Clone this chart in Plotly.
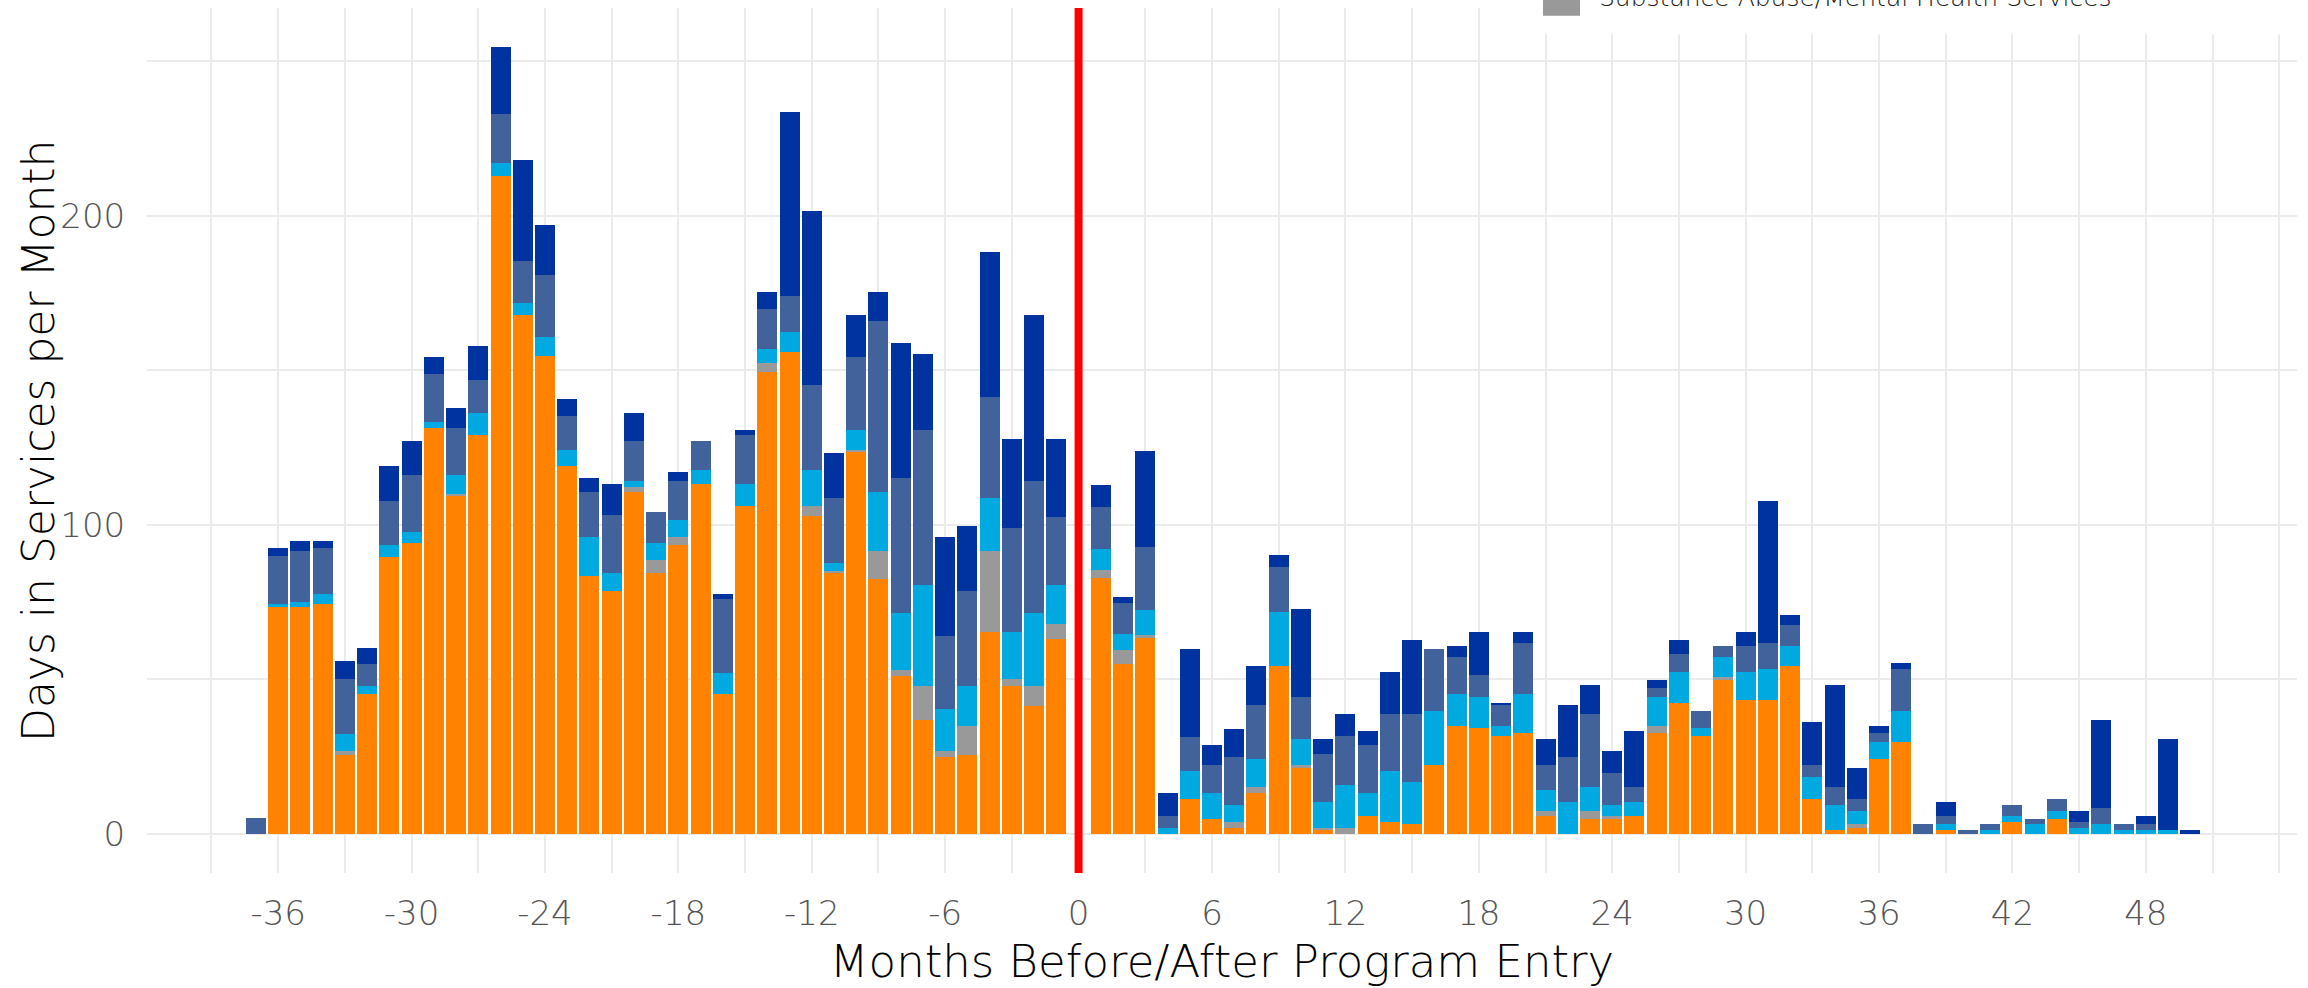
import plotly.graph_objects as go

# Months relative to program entry (no bar at month 0)
months = list(range(-37, 0)) + list(range(1, 51))

# Component heights (days per month) for each service, bottom to top of stack
jail = [0, 73.3, 73.3, 74.4, 25.6, 45.1, 89.6, 94.0, 131.4, 109.2, 129.2, 212.9, 168.0, 154.6, 118.9, 83.4,
        78.6, 110.6, 84.3, 93.5, 113.3, 45.1, 106.0, 149.6, 156.0, 102.7, 84.3, 123.5, 82.5, 51.2, 36.9,
        24.9, 25.6, 65.2, 47.7, 41.3, 63.1,
        82.7, 55.0, 63.3, 0, 11.1, 4.9, 2.0, 13.1, 54.3, 21.4, 1.1, 0, 5.8, 3.9, 3.0, 22.3, 35.0, 34.1,
        31.5, 32.5, 5.8, 0, 4.9, 4.9, 5.8, 32.5, 42.3, 31.5, 49.9, 43.3, 43.3, 54.4, 11.2, 1.1, 2.0,
        24.2, 29.6, 0, 1.1, 0, 0, 3.9, 0, 4.9, 0, 0, 0, 0, 0, 0]
sa_mh = [0, 0, 0, 0, 1.1, 0, 0, 0, 0, 0.7, 0, 0, 0, 0, 0, 0,
         0, 1.6, 4.4, 2.4, 0, 0, 0, 2.9, 0, 3.3, 0.9, 0.7, 9.0, 1.8, 10.8,
         1.8, 9.2, 26.3, 2.5, 6.4, 4.9,
         2.8, 4.6, 1.0, 0, 0, 0, 1.9, 1.9, 0, 0.9, 0.9, 2.0, 0, 0, 0, 0, 0, 0,
         0, 0, 1.6, 0, 2.5, 0.9, 0, 2.5, 0, 0, 0.7, 0, 0, 0, 0, 0, 1.0,
         0, 0, 0, 0, 0, 0, 0, 0, 0, 0, 0, 0, 0, 0, 0]
hospital = [0, 1.1, 1.8, 3.2, 5.6, 2.6, 3.7, 3.7, 2.0, 6.2, 7.0, 4.2, 3.7, 6.2, 5.3, 12.5,
            5.7, 1.9, 5.3, 5.7, 4.5, 7.0, 7.3, 4.4, 6.5, 11.8, 2.4, 6.4, 19.1, 18.4, 32.7,
            13.8, 12.9, 17.3, 15.0, 23.7, 12.4,
            6.5, 4.9, 8.2, 2.0, 9.2, 8.2, 5.4, 9.1, 17.4, 8.3, 8.3, 13.7, 7.3, 16.5, 13.6, 17.5, 10.2, 10.1,
            3.5, 12.7, 6.7, 10.3, 7.6, 3.5, 4.5, 9.2, 10.2, 2.6, 6.6, 9.2, 10.1, 6.3, 7.3, 8.2, 4.4,
            5.4, 10.2, 0, 1.9, 0, 1.1, 1.9, 3.0, 2.5, 2.0, 3.0, 1.1, 1.1, 1.1, 0]
detox = [5.0, 15.4, 16.4, 14.8, 17.9, 7.2, 14.5, 18.4, 15.4, 15.3, 10.6, 15.8, 13.6, 20.1, 11.0, 14.7,
         18.9, 12.9, 10.1, 12.5, 9.2, 23.9, 15.7, 12.9, 11.7, 27.4, 21.2, 23.8, 55.5, 43.6, 50.2,
         23.6, 30.9, 32.7, 33.6, 42.7, 22.1,
         13.6, 10.2, 20.3, 3.8, 11.1, 9.2, 15.5, 17.4, 14.6, 13.6, 15.5, 15.8, 15.6, 18.4, 22.2, 20.0, 12.0, 7.3,
         6.7, 16.5, 8.2, 14.6, 23.8, 10.2, 4.7, 2.9, 5.7, 5.7, 3.5, 8.2, 8.3, 6.7, 3.8, 5.7, 3.8,
         2.9, 13.6, 3.0, 2.8, 1.1, 1.9, 3.5, 1.9, 3.8, 1.9, 5.4, 1.9, 1.9, 0, 0]
shelter = [0, 2.6, 3.4, 2.5, 5.6, 5.3, 11.1, 10.9, 5.6, 6.4, 11.2, 21.7, 32.7, 16.3, 5.4, 4.4,
           10.1, 9.2, 0, 2.9, 0, 1.6, 1.6, 5.5, 59.5, 56.4, 14.5, 13.6, 9.2, 43.8, 24.7,
           31.8, 21.0, 46.7, 29.1, 53.9, 25.4,
           7.3, 1.9, 31.0, 7.3, 28.3, 6.3, 9.2, 12.7, 3.8, 28.6, 4.8, 7.3, 4.4, 13.7, 23.8, 0, 3.5, 13.9,
           0.6, 3.7, 8.3, 16.8, 9.2, 7.3, 18.1, 2.8, 4.4, 0, 0, 4.7, 46.0, 3.5, 13.7, 33.0, 10.2,
           2.5, 1.9, 0, 4.5, 0, 0, 0, 0, 0, 3.5, 28.5, 0, 2.8, 29.5, 1.1]

series = [
    ("Jail", jail, "#FF8200", 1),
    ("Substance Abuse/Mental Health Services", sa_mh, "#999999", 5),
    ("Hospital", hospital, "#00A9E0", 2),
    ("Detox", detox, "#41629A", 3),
    ("Shelter", shelter, "#0033A0", 4),
]

x_ticks = list(range(-36, 49, 6))
x_minor = list(range(-39, 55, 3))
y_ticks = [0, 100, 200]
y_minor = [50, 150, 250]

FONT = "DejaVu Sans"
GRID = "#EBEBEB"

fig = go.Figure()
for name, vals, color, rank in series:
    fig.add_trace(go.Bar(
        x=months, y=vals, name=name, marker=dict(color=color, line=dict(width=0)),
        showlegend=False, legendrank=rank,
    ))

W, H = 2308, 988
L, R, T, B = 147, 11, 8, 91
pw, ph = W - L - R, H - T - B

def px_x(p):
    return (p - L) / pw

def px_y(p):
    return (H - B - p) / ph

fig.update_layout(
    width=W, height=H,
    margin=dict(l=L, r=R, t=T, b=B, pad=0),
    barmode="stack", bargap=0.1,
    paper_bgcolor="white", plot_bgcolor="white",
    font=dict(family=FONT, color="#4D4D4D"),
    xaxis=dict(
        range=[-41.9, 54.8], tickvals=x_ticks, ticktext=[str(v) for v in x_ticks],
        showgrid=True, gridcolor=GRID, gridwidth=2, zeroline=False, showline=False,
        ticks="outside", ticklen=10, tickcolor="rgba(0,0,0,0)",
        tickfont=dict(size=34, color="#555555", family=FONT, weight=300),
        minor=dict(tickvals=x_minor, showgrid=True, gridcolor=GRID, gridwidth=2, ticks=""),
        title=dict(text="Months Before/After Program Entry",
                   font=dict(size=45, color="#000000", family=FONT, weight=300), standoff=16),
    ),
    yaxis=dict(
        range=[-12.73, 267.3], tickvals=y_ticks, ticktext=[str(v) for v in y_ticks],
        showgrid=True, gridcolor=GRID, gridwidth=2, zeroline=False, showline=False,
        ticks="outside", ticklen=14, tickcolor="rgba(0,0,0,0)",
        tickfont=dict(size=34, color="#555555", family=FONT, weight=300),
        minor=dict(tickvals=y_minor, showgrid=True, gridcolor=GRID, gridwidth=2, ticks=""),
    ),
    shapes=[
        dict(type="line", xref="x", yref="paper", x0=0, x1=0, y0=0, y1=1,
             line=dict(color="#FF0000", width=8), layer="above"),
        # legend box (mostly above the visible area)
        dict(type="rect", xref="paper", yref="paper", x0=px_x(1528), x1=px_x(2320),
             y0=px_y(35), y1=px_y(-60), fillcolor="white", line=dict(width=0), layer="above"),
        dict(type="rect", xref="paper", yref="paper", x0=px_x(1543), x1=px_x(1580),
             y0=px_y(16), y1=px_y(-21), fillcolor="#999999", line=dict(width=0), layer="above"),
    ],
    annotations=[
        dict(text="Days in Services per Month", xref="paper", yref="paper",
             x=px_x(39), y=px_y(453), xanchor="center", yanchor="middle", textangle=-90,
             showarrow=False, font=dict(size=44, color="#000000", family=FONT, weight=300)),
        dict(text="Substance Abuse/Mental Health Services", xref="paper", yref="paper",
             x=px_x(1597), y=px_y(14), xanchor="left", yanchor="bottom", showarrow=False,
             font=dict(size=25, color="#1A1A1A", family=FONT, weight=300)),
    ],
)

fig.write_html("out.html", config={"displayModeBar": False},
               post_script="document.body.style.margin='0';document.body.style.overflow='hidden';")
